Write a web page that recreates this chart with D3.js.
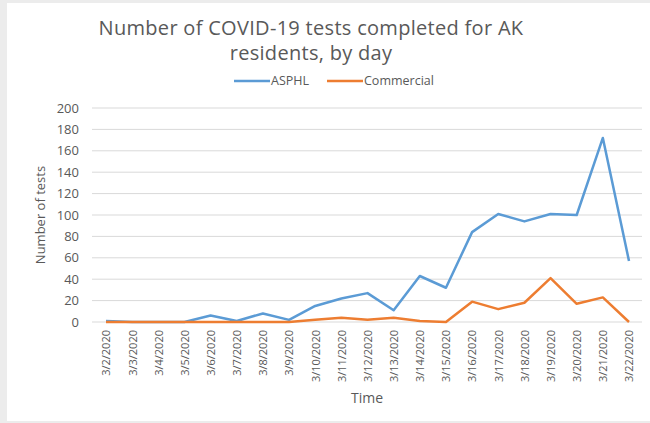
<!DOCTYPE html>
<html>
<head>
<meta charset="utf-8">
<script src="https://cdn.jsdelivr.net/npm/d3@7"></script>
<style>
  body { margin: 0; background: #ececec; }
  svg { display: block; font-family: "Open Sans", sans-serif; }
</style>
</head>
<body>
<svg id="chart" width="650" height="423"></svg>
<script>
var dates = ['3/2/2020', '3/3/2020', '3/4/2020', '3/5/2020', '3/6/2020', '3/7/2020', '3/8/2020',
  '3/9/2020', '3/10/2020', '3/11/2020', '3/12/2020', '3/13/2020', '3/14/2020', '3/15/2020',
  '3/16/2020', '3/17/2020', '3/18/2020', '3/19/2020', '3/20/2020', '3/21/2020', '3/22/2020'];
var asphl = [1, 0, 0, 0, 6, 1, 8, 2, 15, 22, 27, 11, 43, 32, 84, 101, 94, 101, 100, 172, 57];
var commercial = [0, 0, 0, 0, 0, 0, 0, 0, 2, 4, 2, 4, 1, 0, 19, 12, 18, 41, 17, 23, 0];
var yTicks = [0, 20, 40, 60, 80, 100, 120, 140, 160, 180, 200];

var series = [
  {name: 'ASPHL', values: asphl, color: '#5b9bd5'},
  {name: 'Commercial', values: commercial, color: '#ed7d31'}
];

const svg = d3.select('#chart');

// white chart area with a gray frame like the screenshot
svg.append('rect')
  .attr('x', 7).attr('y', 3)
  .attr('width', 643).attr('height', 418)
  .attr('fill', '#fff');

var x = d3.scalePoint()
  .domain(dates)
  .range([106, 629]);

var y = d3.scaleLinear()
  .domain([0, 200])
  .range([322, 108]);

// gridlines
svg.append('g')
  .selectAll('line')
  .data(yTicks)
  .enter()
  .append('line')
  .attr('x1', 92).attr('x2', 642)
  .attr('y1', d => y(d)).attr('y2', d => y(d))
  .attr('stroke', '#d9d9d9')
  .attr('stroke-width', 1);

// y axis labels
var yAxis = svg.append('g')
  .attr('transform', 'translate(79,0)')
  .call(d3.axisLeft(y).tickValues(yTicks).tickSize(0).tickPadding(0));
yAxis.select('.domain').remove();
yAxis.selectAll('text')
  .attr('fill', '#595959')
  .style('font-family', '"Open Sans", sans-serif')
  .style('font-size', '13px');

// x axis labels, rotated
var xAxis = svg.append('g')
  .attr('transform', 'translate(0,' + 322 + ')')
  .call(d3.axisBottom(x).tickSize(0).tickPadding(0));
xAxis.select('.domain').remove();
xAxis.selectAll('text')
  .attr('fill', '#595959')
  .style('font-family', '"Open Sans", sans-serif')
  .style('font-size', '11px')
  .attr('text-anchor', 'end')
  .attr('dy', '0.35em')
  .attr('transform', 'translate(0,8) rotate(-90)');

var line = d3.line()
  .x((d, i) => x(dates[i]))
  .y(d => y(d));

svg.append('g')
  .selectAll('path')
  .data(series)
  .enter()
  .append('path')
  .attr('d', d => line(d.values))
  .attr('fill', 'none')
  .attr('stroke', d => d.color)
  .attr('stroke-width', 2.5)
  .attr('stroke-linejoin', 'round');

// title, two separate lines
svg.selectAll('.title')
  .data(['Number of COVID-19 tests completed for AK', 'residents, by day'])
  .enter()
  .append('text')
  .attr('class', 'title')
  .attr('x', 311)
  .attr('y', (d, i) => 35 + i * 25)
  .attr('text-anchor', 'middle')
  .attr('fill', '#595959')
  .style('font-size', '20px')
  .style('letter-spacing', '0.3px')
  .text(d => d);

// legend
var legend = svg.append('g')
  .selectAll('g')
  .data(series)
  .enter()
  .append('g')
  .attr('transform', (d, i) => 'translate(' + [234, 327][i] + ',81)');
legend.append('line')
  .attr('x1', 0).attr('x2', 36)
  .attr('stroke', d => d.color)
  .attr('stroke-width', 2.5);
legend.append('text')
  .attr('x', 37).attr('dy', '0.35em')
  .attr('fill', '#595959')
  .style('font-size', '12.5px')
  .text(d => d.name);

// axis titles
svg.append('text')
  .attr('transform', 'translate(45,215) rotate(-90)')
  .attr('text-anchor', 'middle')
  .attr('fill', '#595959')
  .style('font-size', '13px')
  .text('Number of tests');

svg.append('text')
  .attr('x', 367).attr('y', 403)
  .attr('text-anchor', 'middle')
  .attr('fill', '#595959')
  .style('font-size', '14px')
  .text('Time');
</script>
</body>
</html>
